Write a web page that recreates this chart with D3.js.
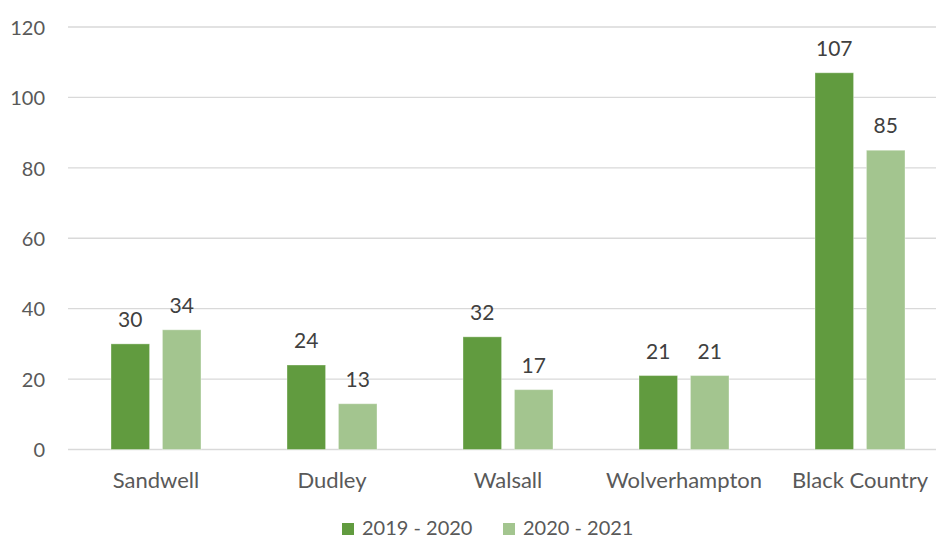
<!DOCTYPE html>
<html>
<head>
<meta charset="utf-8">
<script src="https://cdn.jsdelivr.net/npm/d3@7"></script>
<style>
  body { margin: 0; background: #fff; }
  svg { display: block; font-family: Lato, "Open Sans", sans-serif; }
</style>
</head>
<body>
<div id="chart"></div>
<script>
// chart data
const areas = ["Sandwell", "Dudley", "Walsall", "Wolverhampton", "Black Country"];
const seriesNames = ["2019 - 2020", "2020 - 2021"];
const values2019 = [30, 24, 32, 21, 107];
const values2020 = [34, 13, 17, 21, 85];
const yTicks = [0, 20, 40, 60, 80, 100, 120];
const colors = ["#619b3f", "#a3c58f"];

const width = 936, height = 540;
const margin = { top: 27, left: 68, bottom: 91 };
const plotRight = 948; // plot runs a little past the canvas edge

const svg = d3.select("#chart").append("svg")
    .attr("width", width)
    .attr("height", height);

const x = d3.scaleBand().domain(areas).range([margin.left, plotRight]);
const y = d3.scaleLinear().domain([0, 120]).range([height - margin.bottom + 0.5, margin.top]);
const inner = d3.scaleBand().domain(seriesNames).range([0, 90]).paddingInner(0.25);

// gridlines
svg.append("g")
    .selectAll("line")
    .data(yTicks)
    .join("line")
    .attr("x1", margin.left)
    .attr("x2", plotRight)
    .attr("y1", d => y(d))
    .attr("y2", d => y(d))
    .attr("stroke", "#d9d9d9")
    .attr("stroke-width", 1.3);

// y axis labels
const yAxis = d3.axisLeft(y).tickValues(yTicks).tickSize(0).tickPadding(0);
svg.append("g")
    .attr("transform", `translate(45,0)`)
    .call(yAxis)
    .call(g => g.select(".domain").remove())
    .selectAll("text")
    .attr("fill", "#595959")
    .attr("font-size", "20px")
    .attr("font-family", "Lato, sans-serif")
    .attr("dy", "0.36em");

const series = [values2019, values2020];

const groups = svg.append("g")
    .selectAll("g")
    .data(areas)
    .join("g")
    .attr("transform", d => `translate(${x(d) + (x.bandwidth() - 90) / 2},0)`);

groups.each(function (area, i) {
    const g = d3.select(this);
    const vals = seriesNames.map((s, j) => ({ s, j, v: series[j][i] }));
    g.selectAll("rect")
        .data(vals)
        .join("rect")
        .attr("x", d => inner(d.s))
        .attr("width", inner.bandwidth())
        .attr("y", d => y(d.v))
        .attr("height", d => y(0) - y(d.v))
        .attr("fill", d => colors[d.j])
        .attr("stroke", "#ffffff")
        .attr("stroke-opacity", 0.35)
        .attr("stroke-width", 1);
    g.selectAll("text")
        .data(vals)
        .join("text")
        .attr("x", d => inner(d.s) + inner.bandwidth() / 2)
        .attr("y", d => y(d.v) - 17)
        .attr("text-anchor", "middle")
        .attr("fill", "#404040")
        .attr("font-size", "21px")
        .text(d => d.v);
});

// category labels
const xAxis = d3.axisBottom(x).tickSize(0).tickPadding(0);
svg.append("g")
    .attr("transform", `translate(0,${y(0)})`)
    .call(xAxis)
    .call(g => g.select(".domain").remove())
    .selectAll("text")
    .attr("fill", "#595959")
    .attr("font-size", "22px")
    .attr("font-family", "Lato, sans-serif")
    .attr("dy", "0")
    .attr("y", 38);

// legend
const legendX = [342, 503];
const legend = svg.append("g")
    .selectAll("g")
    .data(seriesNames)
    .join("g")
    .attr("transform", (d, i) => `translate(${legendX[i]},523)`);
legend.append("rect")
    .attr("width", 12)
    .attr("height", 12)
    .attr("fill", (d, i) => colors[i]);
legend.append("text")
    .attr("x", 20)
    .attr("y", 12)
    .attr("fill", "#595959")
    .attr("font-size", "20px")
    .text(d => d);
</script>
</body>
</html>
